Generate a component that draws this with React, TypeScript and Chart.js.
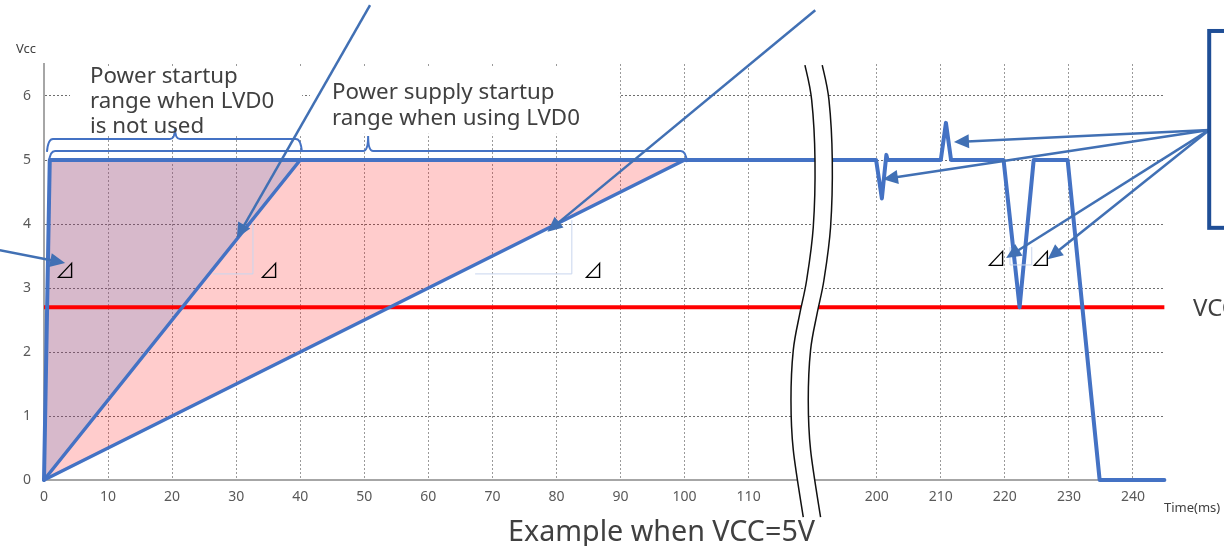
import React, { useEffect, useRef } from 'react';
import { Chart, registerables } from 'chart.js';

Chart.register(...registerables);

// ---------- data (time in ms, voltage in V) ----------
// times above the axis break (110 ms ... 200 ms) are shifted left by the break width
const BREAK_FROM = 110;
const BREAK_SHIFT = 70;

const vccTime = [0, 0.9, 199.9, 200.8, 201.5, 201.7, 210.0, 210.8, 211.6, 219.8, 222.3, 224.5, 229.8, 234.8, 244.9];
const vccVolt = [0, 5, 5, 4.4, 5.08, 5, 5, 5.58, 5, 5, 2.7, 5, 5, 0, 0];

const fastRampTime = [0, 40];
const fastRampVolt = [0, 5];
const slowRampTime = [0, 100];
const slowRampVolt = [0, 5];

const lvdTime = [0, 244.9];
const lvdVolt = [2.7, 2.7];

const fastRegionTime = [0, 0.9, 40, 0];
const fastRegionVolt = [0, 5, 5, 0];
const slowRegionTime = [0, 0.9, 100, 0];
const slowRegionVolt = [0, 5, 5, 0];

const xTickLabels = [0, 10, 20, 30, 40, 50, 60, 70, 80, 90, 100, 110, 200, 210, 220, 230, 240];
const yTickLabels = [0, 1, 2, 3, 4, 5, 6];

const noteLvdOff = ['Power startup', 'range when LVD0', 'is not used'];
const noteLvdOn = ['Power supply startup', 'range when using LVD0'];
const captionText = 'Example when VCC=5V';
const yTitleText = 'Vcc';
const xTitleText = 'Time(ms)';
const lvdLabelText = 'VCC';
const deltaMark = '⊿';

// ---------- helpers ----------
const toAxis = (t: number) => (t <= BREAK_FROM ? t : t - BREAK_SHIFT);
const fromAxis = (v: number) => (v <= BREAK_FROM ? v : v + BREAK_SHIFT);
const pts = (xs: number[], ys: number[]) => xs.map((t, i) => ({ x: toAxis(t), y: ys[i] }));

const BLUE = '#4472C4';
const ARROW = '#4170B4';
const TEXT = '#404040';
const FONT = "'Noto Sans', sans-serif";

type P = [number, number];

function smooth(ctx: CanvasRenderingContext2D, p: P[], move: boolean) {
  if (move) ctx.moveTo(p[0][0], p[0][1]);
  else ctx.lineTo(p[0][0], p[0][1]);
  for (let i = 0; i < p.length - 1; i++) {
    const p0 = p[i - 1] || p[i];
    const p1 = p[i];
    const p2 = p[i + 1];
    const p3 = p[i + 2] || p2;
    ctx.bezierCurveTo(
      p1[0] + (p2[0] - p0[0]) / 6, p1[1] + (p2[1] - p0[1]) / 6,
      p2[0] - (p3[0] - p1[0]) / 6, p2[1] - (p3[1] - p1[1]) / 6,
      p2[0], p2[1]
    );
  }
}

function arrow(ctx: CanvasRenderingContext2D, x1: number, y1: number, x2: number, y2: number) {
  const a = Math.atan2(y2 - y1, x2 - x1);
  const hl = 15, hw = 7;
  const bx = x2 - hl * Math.cos(a), by = y2 - hl * Math.sin(a);
  ctx.strokeStyle = ARROW;
  ctx.fillStyle = ARROW;
  ctx.lineWidth = 2.5;
  ctx.beginPath();
  ctx.moveTo(x1, y1);
  ctx.lineTo(bx + 2 * Math.cos(a), by + 2 * Math.sin(a));
  ctx.stroke();
  ctx.beginPath();
  ctx.moveTo(x2, y2);
  ctx.lineTo(bx + hw * Math.sin(a), by - hw * Math.cos(a));
  ctx.lineTo(bx - hw * Math.sin(a), by + hw * Math.cos(a));
  ctx.closePath();
  ctx.fill();
}

function brace(ctx: CanvasRenderingContext2D, x1: number, x2: number, xm: number, y: number, up: number, down: number) {
  const r = 5;
  ctx.beginPath();
  ctx.moveTo(x1 - 1, y + down);
  ctx.quadraticCurveTo(x1, y, x1 + r, y);
  ctx.lineTo(xm - r, y);
  ctx.quadraticCurveTo(xm, y, xm, y - up);
  ctx.quadraticCurveTo(xm, y, xm + r, y);
  ctx.lineTo(x2 - r, y);
  ctx.quadraticCurveTo(x2, y, x2 + 1, y + down);
  ctx.stroke();
}

function fitSize(ctx: CanvasRenderingContext2D, text: string, target: number) {
  ctx.font = `100px ${FONT}`;
  return (100 * target) / ctx.measureText(text).width;
}

// annotation geometry in axis units (x: axis position, y: volts)
const breakLeft: P[] = [
  [118.79, 6.484], [119.84, 5.94], [120.36, 5.0], [120.09, 3.95], [119.06, 3.125],
  [118.01, 2.61], [116.97, 2.03], [116.61, 1.25], [116.97, 0.47], [118.53, -0.58],
];
const BREAK_GAP = 2.7;

const arrows: [number, number, number, number][] = [
  [50.9, 7.42, 30.1, 3.78],
  [120.4, 7.34, 78.6, 3.88],
  [-6.9, 3.59, 3.3, 3.39],
  [181.9, 5.47, 142.05, 5.28],
  [181.9, 5.47, 130.97, 4.7],
  [181.9, 5.47, 150.2, 3.47],
  [181.9, 5.47, 156.7, 3.45],
];
const deltaSpots: P[] = [[3.28, 3.27], [35.12, 3.27], [85.7, 3.27], [148.6, 3.47], [155.6, 3.47]];

const annotate = {
  id: 'annotate',
  afterDraw(chart: any) {
    const ctx: CanvasRenderingContext2D = chart.ctx;
    const xs = chart.scales.x, ys = chart.scales.y;
    const X = (v: number) => xs.getPixelForValue(v);
    const Y = (v: number) => ys.getPixelForValue(v);
    const area = chart.chartArea;
    ctx.save();

    // axis break
    const L: P[] = breakLeft.map(([x, y]) => [X(x), Y(y)]);
    const R: P[] = breakLeft.map(([x, y]) => [X(x + BREAK_GAP), Y(y)]);
    ctx.fillStyle = '#ffffff';
    ctx.beginPath();
    smooth(ctx, L, true);
    smooth(ctx, R.slice().reverse(), false);
    ctx.closePath();
    ctx.fill();
    ctx.strokeStyle = '#111111';
    ctx.lineWidth = 1.5;
    ctx.beginPath(); smooth(ctx, L, true); ctx.stroke();
    ctx.beginPath(); smooth(ctx, R, true); ctx.stroke();

    // text box backgrounds
    ctx.fillStyle = '#ffffff';
    ctx.fillRect(X(4.06), Y(6.44), X(40.3) - X(4.06), Y(5.375) - Y(6.44));
    ctx.fillRect(X(41.5), Y(6.44), X(89.76) - X(41.5), Y(5.41) - Y(6.44));

    // braces
    ctx.strokeStyle = BLUE;
    ctx.lineWidth = 2;
    brace(ctx, X(0.62), X(40.1), X(20.45), Y(5.33), 11, 13);
    brace(ctx, X(0.94), X(100.2), X(50.6), Y(5.14), 15, 11);

    // faint selection frames
    ctx.strokeStyle = '#C8D5EE';
    ctx.lineWidth = 1;
    ctx.beginPath();
    ctx.moveTo(X(32.62), Y(4.02)); ctx.lineTo(X(32.62), Y(3.22)); ctx.lineTo(X(26.4), Y(3.22));
    ctx.moveTo(X(82.4), Y(4.06)); ctx.lineTo(X(82.4), Y(3.22)); ctx.lineTo(X(67.3), Y(3.22));
    ctx.moveTo(X(150.8), Y(3.64)); ctx.lineTo(X(150.8), Y(3.36)); ctx.lineTo(X(154.2), Y(3.36)); ctx.lineTo(X(154.2), Y(3.64));
    ctx.stroke();

    // arrows
    arrows.forEach(([a, b, c, d]) => arrow(ctx, X(a), Y(b), X(c), Y(d)));

    // delta marks
    ctx.fillStyle = '#000000';
    ctx.font = "20px 'Noto Sans CJK JP', 'DejaVu Sans', sans-serif";
    ctx.textAlign = 'center';
    ctx.textBaseline = 'middle';
    deltaSpots.forEach(([x, y]) => ctx.fillText(deltaMark, X(x), Y(y)));

    // notes
    ctx.fillStyle = TEXT;
    ctx.textAlign = 'left';
    ctx.textBaseline = 'alphabetic';
    const noteSize = fitSize(ctx, noteLvdOn[1], 248);
    ctx.font = `${noteSize.toFixed(2)}px ${FONT}`;
    const off = [6.203, 5.8125, 5.42];
    noteLvdOff.forEach((s, i) => ctx.fillText(s, X(7.18), Y(off[i])));
    const on = [5.953, 5.547];
    noteLvdOn.forEach((s, i) => ctx.fillText(s, X(44.96), Y(on[i])));

    // caption
    const capSize = fitSize(ctx, captionText, 307);
    ctx.font = `${capSize.toFixed(2)}px ${FONT}`;
    ctx.textAlign = 'center';
    ctx.fillText(captionText, X(96.4), area.bottom + 61);

    // axis titles
    ctx.textAlign = 'left';
    ctx.font = `13px ${FONT}`;
    ctx.fillStyle = '#404040';
    ctx.fillText(yTitleText, area.left - 28, area.top - 11);
    ctx.font = `13px ${FONT}`;
    ctx.fillText(xTitleText, area.right - 1, area.bottom + 32);

    // threshold label
    ctx.font = `24px ${FONT}`;
    ctx.fillStyle = TEXT;
    ctx.fillText(lvdLabelText, area.right + 28, Y(2.7) + 8.5);

    // callout box
    ctx.strokeStyle = '#1F4E96';
    ctx.lineWidth = 4;
    ctx.strokeRect(X(181.9), Y(7.016), X(195) - X(181.9), Y(3.94) - Y(7.016));

    ctx.restore();
  },
};

export default function App() {
  const ref = useRef<HTMLCanvasElement>(null);

  useEffect(() => {
    if (!ref.current) return;
    const lineDs = (label: string, data: any[], color: string, width: number, order: number) => ({
      label, data, borderColor: color, borderWidth: width, pointRadius: 0, tension: 0,
      borderJoinStyle: 'round', borderCapStyle: 'round',
      fill: false, order, clip: 8,
    });
    const chart = new Chart(ref.current, {
      type: 'line',
      data: {
        datasets: [
          lineDs('VCC', pts(vccTime, vccVolt), BLUE, 4, 0) as any,
          lineDs('Ramp 40 ms', pts(fastRampTime, fastRampVolt), BLUE, 3.5, 1) as any,
          lineDs('Ramp 100 ms', pts(slowRampTime, slowRampVolt), BLUE, 3.5, 2) as any,
          { ...lineDs('LVD level', pts(lvdTime, lvdVolt), '#FF0000', 4, 3), borderCapStyle: 'butt', clip: 0 } as any,
          {
            label: 'Range without LVD0', data: pts(fastRegionTime, fastRegionVolt),
            borderWidth: 0, borderColor: 'rgba(0,0,0,0)', backgroundColor: 'rgba(68,114,196,0.21)',
            fill: 'shape', pointRadius: 0, order: 5,
          } as any,
          {
            label: 'Range with LVD0', data: pts(slowRegionTime, slowRegionVolt),
            borderWidth: 0, borderColor: 'rgba(0,0,0,0)', backgroundColor: 'rgba(255,0,0,0.2)',
            fill: 'shape', pointRadius: 0, order: 6,
          } as any,
        ],
      },
      options: {
        animation: false,
        responsive: false,
        devicePixelRatio: 1,
        layout: { padding: { left: 0, right: 59, top: 64, bottom: 0 } },
        plugins: { legend: { display: false }, tooltip: { enabled: false }, title: { display: false } },
        scales: {
          x: {
            type: 'linear',
            min: 0,
            max: 175,
            afterFit: (s: any) => { s.height = 66; },
            ticks: {
              stepSize: 10,
              includeBounds: false,
              autoSkip: false,
              maxRotation: 0,
              padding: 9,
              color: '#595959',
              font: { family: FONT, size: 14 },
              callback: (v: any) => {
                const real = fromAxis(Number(v));
                return xTickLabels.includes(real) ? String(real) : '';
              },
            },
            grid: {
              drawTicks: false,
              lineWidth: 1,
              color: (c: any) => (c.tick && xTickLabels.includes(fromAxis(c.tick.value)) ? '#9A9A9A' : 'rgba(0,0,0,0)'),
            },
            border: { display: true, color: '#A6A6A6', width: 2, dash: [2, 2] },
          } as any,
          y: {
            type: 'linear',
            min: 0,
            max: 6.5,
            afterFit: (s: any) => { s.width = 44; },
            ticks: {
              stepSize: 1,
              includeBounds: false,
              padding: 13,
              color: '#595959',
              font: { family: FONT, size: 14 },
              callback: (v: any) => (yTickLabels.includes(Number(v)) ? String(v) : ''),
            },
            grid: { drawTicks: false, lineWidth: 1, color: '#6E6E6E' },
            border: { display: true, color: '#A6A6A6', width: 2, dash: [2, 2] },
          } as any,
        },
      },
      plugins: [annotate],
    });
    return () => chart.destroy();
  }, []);

  return (
    <div style={{ position: 'fixed', left: 0, top: 0, width: 1224, height: 546, background: '#ffffff', overflow: 'hidden' }}>
      <canvas ref={ref} width={1224} height={546} style={{ display: 'block' }} />
    </div>
  );
}
